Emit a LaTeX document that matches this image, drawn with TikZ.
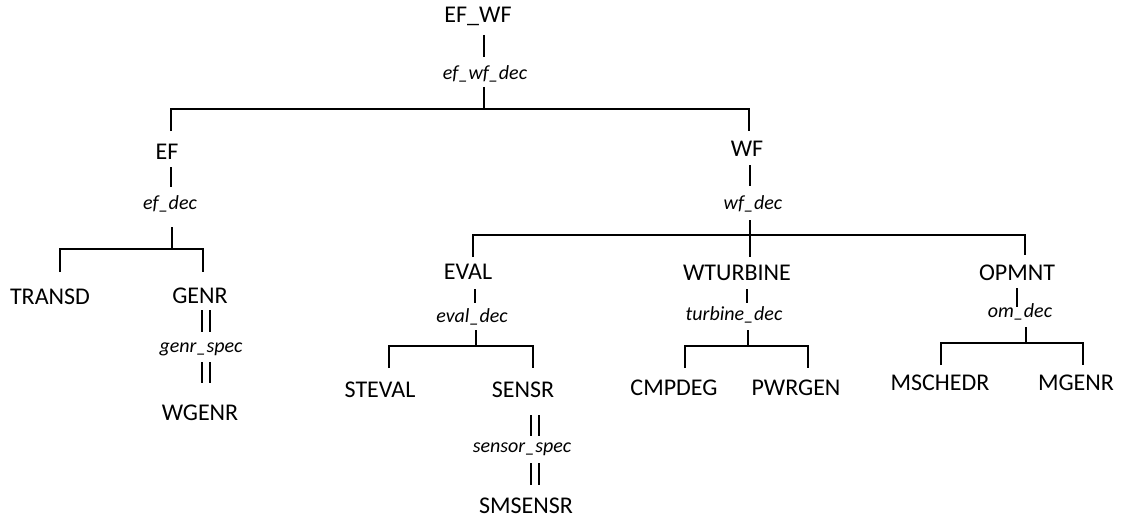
\documentclass[tikz,border=0pt]{standalone}
\usepackage{fontspec}
\setmainfont{Carlito}
\begin{document}
\begin{tikzpicture}[x=1pt,y=-1pt,
  lbl/.style={anchor=base,inner sep=0pt,font=\fontsize{24}{28}\selectfont},
  dec/.style={anchor=base,inner sep=0pt,font=\fontsize{20}{24}\selectfont\itshape},
  conn/.style={line width=1.7pt},
  dbl/.style={line width=1.5pt}]
\useasboundingbox (0,0) rectangle (1130,527);
% nodes
\node[lbl] (efwf) at (478,23) {EF\_WF};
\node[dec] (efwfdec) at (485,79) {ef\_wf\_dec};
\node[lbl] (ef) at (167,159) {EF};
\node[dec] (efdec) at (170,209) {ef\_dec};
\node[lbl] (transd) at (50,304) {TRANSD};
\node[lbl] (genr) at (200,303) {GENR};
\node[dec] (genrspec) at (201,352) {genr\_spec};
\node[lbl] (wgenr) at (200,420) {WGENR};
\node[lbl] (wf) at (747,156) {WF};
\node[dec] (wfdec) at (753,209) {wf\_dec};
\node[lbl] (eval) at (468,279) {EVAL};
\node[dec] (evaldec) at (472,322) {eval\_dec};
\node[lbl] (steval) at (380,397) {STEVAL};
\node[lbl] (sensr) at (523,397) {SENSR};
\node[dec] (sensorspec) at (522,452) {sensor\_spec};
\node[lbl] (smsensr) at (526,513) {SMSENSR};
\node[lbl] (wturbine) at (737,280) {WTURBINE};
\node[dec] (turbinedec) at (734,320) {turbine\_dec};
\node[lbl] (cmpdeg) at (674,395) {CMPDEG};
\node[lbl] (pwrgen) at (796,395) {PWRGEN};
\node[lbl] (opmnt) at (1017,280) {OPMNT};
\node[dec] (omdec) at (1020,317) {om\_dec};
\node[lbl] (mschedr) at (940,390) {MSCHEDR};
\node[lbl] (mgenr) at (1076,390) {MGENR};
% connector end points
\coordinate (a1) at (484,35);  \coordinate (a2) at (484,57);
\coordinate (a3) at (484,87);  \coordinate (a4) at (484,109);
\coordinate (a5) at (171,109); \coordinate (a6) at (171,131);
\coordinate (a7) at (749,109); \coordinate (a8) at (749,131);
\coordinate (b1) at (171,167); \coordinate (b2) at (171,187);
\coordinate (b3) at (172,227); \coordinate (b4) at (172,249);
\coordinate (b5) at (60,249);  \coordinate (b6) at (60,272);
\coordinate (b7) at (203,249); \coordinate (b8) at (203,272);
\coordinate (g1) at (206,310); \coordinate (g2) at (206,332);
\coordinate (g3) at (206,362); \coordinate (g4) at (206,383);
\coordinate (c1) at (750,165); \coordinate (c2) at (750,186);
\coordinate (c3) at (750,220); \coordinate (c4) at (750,257);
\coordinate (c5) at (473,235); \coordinate (c6) at (473,257);
\coordinate (c7) at (1025,235); \coordinate (c8) at (1025,255);
\coordinate (e1) at (475,289); \coordinate (e2) at (475,303);
\coordinate (e3) at (476,330); \coordinate (e4) at (476,346);
\coordinate (e5) at (389,346); \coordinate (e6) at (389,368);
\coordinate (e7) at (533,346); \coordinate (e8) at (533,368);
\coordinate (s1) at (535,415); \coordinate (s2) at (535,436);
\coordinate (s3) at (535,463); \coordinate (s4) at (535,485);
\coordinate (t1) at (747,289); \coordinate (t2) at (747,303);
\coordinate (t3) at (748,330); \coordinate (t4) at (748,346);
\coordinate (t5) at (685,346); \coordinate (t6) at (685,368);
\coordinate (t7) at (808,346); \coordinate (t8) at (808,368);
\coordinate (o1) at (1017,288); \coordinate (o2) at (1017,307);
\coordinate (o3) at (1026,327); \coordinate (o4) at (1026,343);
\coordinate (o5) at (941,343);  \coordinate (o6) at (941,365);
\coordinate (o7) at (1083,343); \coordinate (o8) at (1083,365);
% connectors
\draw[conn] (a1) -- (a2);
\draw[conn] (a3) -- (a4);
\draw[conn] (a6) -- (a5) -- (a7) -- (a8);
\draw[conn] (b1) -- (b2);
\draw[conn] (b3) -- (b4);
\draw[conn] (b6) -- (b5) -- (b7) -- (b8);
\foreach \p/\q in {g1/g2,g3/g4,s1/s2,s3/s4}{
  \draw[dbl] ([xshift=-4pt]\p) -- ([xshift=-4pt]\q);
  \draw[dbl] ([xshift=4pt]\p) -- ([xshift=4pt]\q);
}
\draw[conn] (c1) -- (c2);
\draw[conn] (c3) -- (c4);
\draw[conn] (c6) -- (c5) -- (c7) -- (c8);
\draw[conn] (e1) -- (e2);
\draw[conn] (e3) -- (e4);
\draw[conn] (e6) -- (e5) -- (e7) -- (e8);
\draw[conn] (t1) -- (t2);
\draw[conn] (t3) -- (t4);
\draw[conn] (t6) -- (t5) -- (t7) -- (t8);
\draw[conn] (o1) -- (o2);
\draw[conn] (o3) -- (o4);
\draw[conn] (o6) -- (o5) -- (o7) -- (o8);
\end{tikzpicture}
\end{document}
